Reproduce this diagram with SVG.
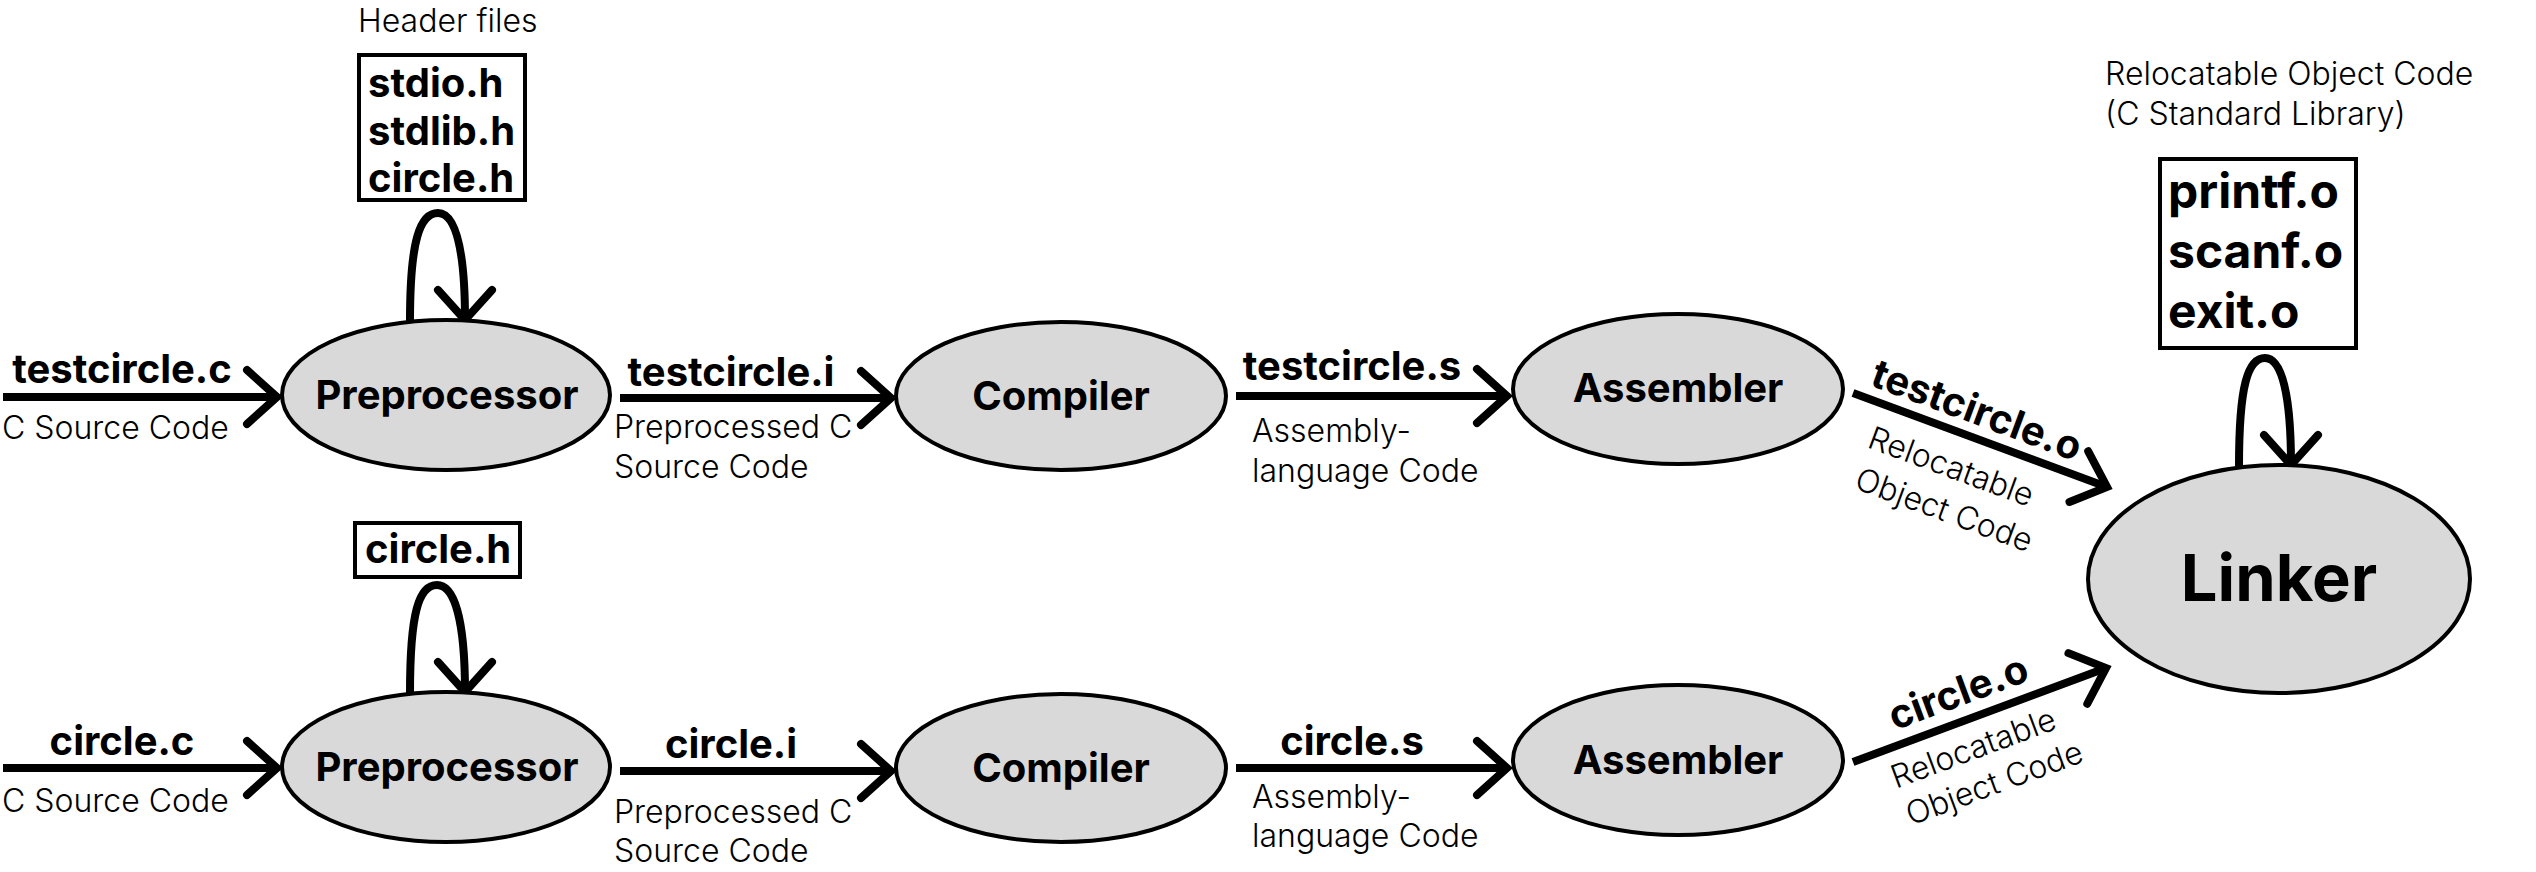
<svg xmlns="http://www.w3.org/2000/svg" width="2536" height="872" viewBox="0 0 2536 872">
<style>
.node{fill:#d9d9d9;stroke:#000;stroke-width:4}
.box{fill:#fff;stroke:#000;stroke-width:4}
.nt{font-family:Inter,"Liberation Sans",sans-serif;font-weight:700;font-size:40px;fill:#000;text-anchor:middle}
.bl{font-family:Inter,"Liberation Sans",sans-serif;font-weight:700;font-size:40px;fill:#000}
.lt{font-family:Inter,"Liberation Sans",sans-serif;font-weight:300;font-size:32px;fill:#000}
.edge{fill:none;stroke:#000;stroke-width:8;marker-end:url(#arr)}
</style>
<defs>
<marker id="arr" markerUnits="userSpaceOnUse" viewBox="-40 -40 60 80" markerWidth="60" markerHeight="80" refX="0" refY="0" orient="auto">
<polyline points="-30,-27 0,0 -30,27" fill="none" stroke="#000" stroke-width="8" stroke-linecap="round" stroke-linejoin="miter"/>
</marker>
</defs>
<rect width="2536" height="872" fill="#fff"/>

<g id="connectors">
<path class="edge" d="M3,397 L277,397"/>
<path class="edge" d="M620,398 L891,398"/>
<path class="edge" d="M1236,396 L1507,396"/>
<path class="edge" d="M1853,393 L2107,487"/>
<path class="edge" d="M3,768 L277,768"/>
<path class="edge" d="M620,771 L891,771"/>
<path class="edge" d="M1236,768 L1507,768"/>
<path class="edge" d="M1853,762 L2106,668"/>
<path class="edge" d="M410,321 C410,240 420,213 438,213 C456,213 465,250 465,320"/>
<path class="edge" d="M410,693 C410,612 419,585 437,585 C455,585 465,622 465,692"/>
<path class="edge" d="M2239,466 C2239,385 2248,358 2265,358 C2282,358 2291,395 2291,465"/>
</g>

<g id="edge-labels">
<text class="nt" x="122" y="383">testcircle.c</text>
<text class="lt" x="2" y="439">C Source Code</text>
<text class="nt" x="731" y="386">testcircle.i</text>
<text class="lt" x="614" y="438">Preprocessed C</text>
<text class="lt" x="614" y="478">Source Code</text>
<text class="nt" x="1352" y="380">testcircle.s</text>
<text class="lt" x="1252" y="442">Assembly-</text>
<text class="lt" x="1252" y="482">language Code</text>
<g transform="translate(1853,393) rotate(20.3)">
<text class="bl" x="12" y="-13">testcircle.o</text>
<text class="lt" x="31" y="46">Relocatable</text>
<text class="lt" x="33" y="89">Object Code</text>
</g>
<text class="nt" x="122" y="755">circle.c</text>
<text class="lt" x="2" y="812">C Source Code</text>
<text class="nt" x="731" y="758">circle.i</text>
<text class="lt" x="614" y="823">Preprocessed C</text>
<text class="lt" x="614" y="862">Source Code</text>
<text class="nt" x="1352" y="755">circle.s</text>
<text class="lt" x="1252" y="808">Assembly-</text>
<text class="lt" x="1252" y="847">language Code</text>
<g transform="translate(1853,762) rotate(-20.4)">
<text class="bl" x="50" y="-15">circle.o</text>
<text class="lt" x="31" y="40">Relocatable</text>
<text class="lt" x="32" y="80">Object Code</text>
</g>
</g>

<g id="header-files">
<text class="lt" x="358" y="32">Header files</text>
<rect class="box" x="359" y="55" width="166" height="145"/>
<text class="bl" x="368" y="97">stdio.h</text>
<text class="bl" x="368" y="145">stdlib.h</text>
<text class="bl" x="368" y="192">circle.h</text>
</g>

<g id="header-circle">
<rect class="box" x="355" y="523" width="165" height="54"/>
<text class="bl" x="365" y="563">circle.h</text>
</g>

<g id="stdlib-objects">
<text class="lt" x="2105" y="85">Relocatable Object Code</text>
<text class="lt" x="2105" y="125">(C Standard Library)</text>
<rect class="box" x="2160" y="159" width="196" height="189"/>
<text class="bl" x="2168" y="208" style="font-size:48px">printf.o</text>
<text class="bl" x="2168" y="268" style="font-size:48px">scanf.o</text>
<text class="bl" x="2168" y="328" style="font-size:48px">exit.o</text>
</g>

<g id="preprocessor-top">
<ellipse class="node" cx="446" cy="395" rx="164" ry="75"/>
<text class="nt" x="447" y="409">Preprocessor</text>
</g>
<g id="compiler-top">
<ellipse class="node" cx="1061" cy="396" rx="165" ry="74"/>
<text class="nt" x="1061" y="410">Compiler</text>
</g>
<g id="assembler-top">
<ellipse class="node" cx="1678" cy="389" rx="165" ry="75"/>
<text class="nt" x="1678" y="402">Assembler</text>
</g>
<g id="linker">
<ellipse class="node" cx="2279" cy="579" rx="191" ry="114"/>
<text class="nt" x="2279" y="601" style="font-size:65px">Linker</text>
</g>
<g id="preprocessor-bottom">
<ellipse class="node" cx="446" cy="767" rx="164" ry="75"/>
<text class="nt" x="447" y="781">Preprocessor</text>
</g>
<g id="compiler-bottom">
<ellipse class="node" cx="1061" cy="768" rx="165" ry="74"/>
<text class="nt" x="1061" y="782">Compiler</text>
</g>
<g id="assembler-bottom">
<ellipse class="node" cx="1678" cy="760" rx="165" ry="75"/>
<text class="nt" x="1678" y="774">Assembler</text>
</g>
</svg>
